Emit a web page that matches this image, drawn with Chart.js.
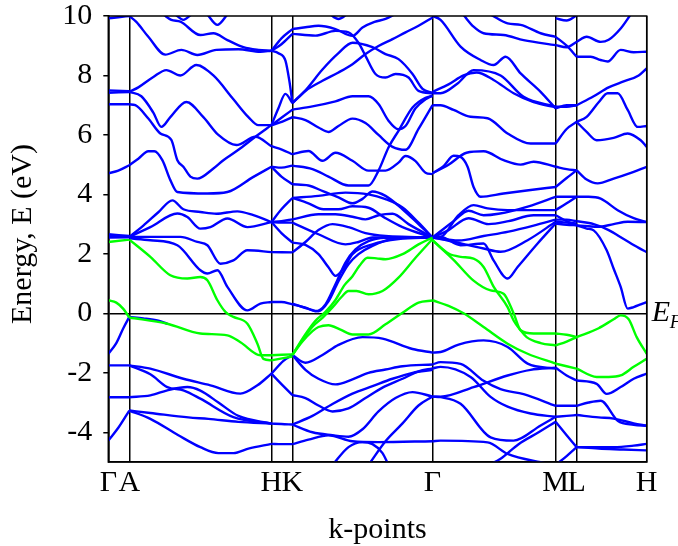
<!DOCTYPE html>
<html><head><meta charset="utf-8">
<script src="https://cdn.jsdelivr.net/npm/chart.js@4"></script>
<style>html,body{margin:0;padding:0;background:#fff}canvas{display:block}</style>
</head><body>
<canvas id="c" width="678" height="546"></canvas>
<script>
// k-path nodes (path length, arbitrary units) and their labels
const kNodes = [0, 21, 163, 184, 324, 447, 468, 538];
const kLabels = ['Γ', 'A', 'H', 'K', 'Γ', 'M', 'L', 'H'];
const energyTicks = [-4, -2, 0, 2, 4, 6, 8, 10];

// bands per path segment: each curve is a list of [k, E(eV)]
const bandsGA = [
  [[0,9.92],[10,9.96],[21,10.0]],
  [[0,7.5],[21,7.47]],
  [[0,7.42],[21,7.44]],
  [[0,7.03],[21,7.03]],
  [[0,4.71],[10,4.8],[21,4.98]],
  [[0,2.66],[21,2.6]],
  [[0,2.6],[21,2.58]],
  [[0,2.55],[21,2.56]],
  [[0,-1.36],[8,-1.0],[15,-0.5],[21,-0.12]],
  [[0,-1.75],[21,-1.75]],
  [[0,-2.82],[21,-2.82]],
  [[0,-4.28],[10,-3.85],[21,-3.27]]
];
const bandsAH = [
  [[21,10.0],[28,9.8],[40,9.3],[57,8.7],[73,8.86],[89,8.69],[108,8.86],[130,8.88],[152,8.8],[163,8.83]],
  [[55,10.05],[63,9.87],[72,9.81],[92,9.36],[105,9.42],[119,9.19],[135,8.95],[150,8.86],[163,8.83]],
  [[67,10.05],[75,9.87],[83,10.05]],
  [[99,10.05],[109,9.7],[119,10.05]],
  [[21,7.45],[30,7.6],[45,7.95],[58,8.18],[72,8.0],[88,8.35],[105,8.0],[125,7.2],[140,6.6],[150,6.33],[163,6.33]],
  [[21,7.45],[33,7.3],[45,6.75],[53,6.27],[62,6.6],[78,7.11],[95,6.6],[110,6.0],[128,5.66],[147,5.94],[163,5.62]],
  [[21,7.03],[27,7.0],[40,6.55],[52,6.05],[63,5.83],[69,5.15],[75,4.93],[82,4.6],[89,4.53],[105,4.87],[115,5.15],[130,5.5],[147,5.94],[163,6.33]],
  [[21,4.98],[30,5.2],[40,5.45],[46,5.45],[54,5.15],[62,4.48],[69,4.08],[99,4.03],[119,4.08],[145,4.59],[163,4.93]],
  [[21,2.57],[35,2.95],[50,3.4],[64,3.8],[75,3.5],[92,3.41],[108,3.35],[129,3.43],[145,3.3],[163,3.07]],
  [[21,2.57],[42,2.9],[69,3.36],[79,3.24],[92,2.85],[102,2.9],[119,3.19],[139,2.9],[163,3.07]],
  [[21,2.57],[72,2.57],[89,2.4],[99,2.29],[112,1.67],[125,1.78],[139,2.12],[163,2.06]],
  [[21,2.52],[42,2.46],[69,2.29],[92,1.45],[99,1.34],[109,1.45],[119,0.89],[139,0.1],[152,0.33],[163,0.38]],
  [[21,-0.12],[35,-0.17],[50,-0.25],[59,-0.35]],
  [[21,-1.75],[42,-1.86],[75,-2.2],[102,-2.42],[132,-2.7],[149,-2.42],[163,-2.03]],
  [[21,-1.75],[42,-2.05],[59,-2.48],[75,-2.59],[92,-2.87],[125,-3.49],[163,-3.71]],
  [[21,-2.82],[42,-2.76],[59,-2.59],[79,-2.48],[92,-2.6],[110,-3.0],[130,-3.45],[163,-3.71]],
  [[21,-3.27],[42,-3.35],[80,-3.5],[100,-3.55],[130,-3.65],[163,-3.71]],
  [[21,-3.27],[42,-3.55],[70,-4.1],[92,-4.5],[110,-4.7],[125,-4.7],[140,-4.55],[163,-4.39]]
];
const bandsHK = [
  [[163,8.83],[173,9.25],[184,9.56]],
  [[163,8.83],[173,9.05],[184,9.4]],
  [[163,8.83],[170,8.75],[177,8.5],[181,7.8],[184,7.07]],
  [[163,6.33],[170,6.9],[177,7.38],[184,7.07]],
  [[163,6.33],[174,6.6],[184,6.85]],
  [[163,6.33],[174,6.45],[184,6.6]],
  [[163,5.62],[174,5.5],[184,5.35]],
  [[163,4.93],[173,4.9],[184,4.97]],
  [[163,4.93],[173,4.6],[184,4.34]],
  [[163,3.07],[173,3.5],[184,3.88]],
  [[163,3.07],[173,3.1],[184,3.16]],
  [[163,3.07],[173,3.05],[184,3.05]],
  [[163,3.07],[173,2.7],[184,2.38]],
  [[163,2.06],[184,2.05]],
  [[163,0.38],[173,0.38],[184,0.3]],
  [[163,-2.03],[175,-1.6],[184,-1.4]],
  [[163,-2.03],[175,-2.45],[184,-2.75]],
  [[163,-3.71],[173,-3.72],[184,-3.74]],
  [[163,-4.39],[173,-4.4],[184,-4.4]]
];
const bandsKG = [
  [[184,9.56],[197,9.62],[210,9.67],[227,9.56],[244,9.33],[254,9.61],[266,9.8],[277,9.9],[287,10.07]],
  [[184,9.4],[207,9.34],[227,9.5],[240,9.45],[250,9.1],[257,8.66],[267,8.05],[277,7.93],[287,8.05],[300,7.93],[310,7.48],[324,7.4]],
  [[220,10.1],[230,9.9],[240,10.1]],
  [[184,7.07],[197,7.48],[214,7.82],[230,8.1],[244,8.38],[257,8.72],[270,8.99],[284,9.22],[297,9.45],[310,9.67],[324,9.95]],
  [[184,7.07],[197,7.5],[214,8.2],[230,8.75],[244,9.1],[264,8.95],[277,8.72],[290,8.55],[304,8.05],[314,7.55],[324,7.42]],
  [[184,6.85],[204,6.96],[227,7.13],[244,7.3],[260,7.3],[270,7.04],[280,6.48],[290,6.19],[297,6.3],[307,6.9],[317,7.2],[324,7.33]],
  [[184,6.6],[197,6.5],[210,6.25],[220,6.1],[230,6.3],[244,6.55],[257,6.4],[270,6.0],[284,5.6],[297,5.5],[310,6.2],[324,7.0]],
  [[184,5.35],[200,5.46],[214,5.13],[227,5.4],[244,5.13],[260,4.8],[277,4.8],[290,5.07],[297,5.29],[307,5.12],[317,4.73],[324,4.68]],
  [[184,4.97],[204,4.85],[220,4.6],[240,4.3],[260,4.3],[270,4.8],[280,5.58],[290,6.14],[304,6.92],[317,7.25],[324,7.31]],
  [[184,4.34],[200,4.3],[215,4.1],[230,3.9],[244,3.7],[254,3.85],[264,4.1],[277,3.95],[294,3.5],[310,3.0],[324,2.55]],
  [[184,3.88],[210,3.95],[237,4.06],[260,4.0],[277,3.84],[294,3.56],[310,3.05],[324,2.55]],
  [[184,3.88],[200,3.7],[215,3.5],[230,3.5],[244,3.6],[260,3.55],[277,3.2],[294,2.9],[324,2.55]],
  [[184,3.16],[210,3.33],[227,3.33],[244,3.25],[257,3.16],[270,3.3],[284,3.35],[300,3.0],[324,2.55]],
  [[184,3.05],[210,2.66],[237,2.32],[250,2.4],[264,2.55],[290,2.56],[324,2.55]],
  [[184,2.38],[197,2.3],[210,1.99],[220,1.55],[227,1.26],[235,1.5],[244,1.99],[264,2.32],[290,2.5],[324,2.55]],
  [[184,2.05],[197,2.4],[210,2.8],[224,3.0],[240,2.9],[257,2.7],[277,2.6],[300,2.57],[324,2.55]],
  [[184,0.3],[197,0.19],[207,0.07],[217,0.3],[227,0.98],[237,1.71],[247,2.15],[260,2.43],[277,2.54],[324,2.56]],
  [[184,0.33],[200,0.15],[210,0.07],[220,0.4],[230,1.08],[240,1.65],[250,1.99],[264,2.27],[287,2.52],[324,2.56]],
  [[184,-1.4],[197,-1.66],[214,-1.4],[230,-1.06],[254,-0.8],[274,-0.85],[304,-1.2],[324,-1.32]],
  [[184,-1.4],[197,-1.9],[210,-2.2],[227,-2.39],[244,-2.22],[260,-2.0],[277,-1.89],[294,-1.78],[324,-1.72]],
  [[184,-2.75],[197,-2.85],[210,-3.1],[224,-3.3],[240,-3.2],[257,-2.85],[274,-2.5],[294,-2.2],[310,-1.95],[324,-1.85]],
  [[184,-3.74],[204,-3.45],[224,-3.05],[244,-2.7],[264,-2.45],[284,-2.2],[304,-2.0],[324,-1.9]],
  [[184,-3.74],[204,-4.0],[224,-4.1],[240,-4.15],[254,-3.9],[270,-3.3],[287,-2.85],[304,-2.65],[324,-2.8]],
  [[184,-4.4],[200,-4.25],[220,-4.1],[244,-4.3],[270,-4.33],[324,-4.3]],
  [[224,-5.1],[240,-4.5],[254,-4.33],[264,-4.4],[274,-4.7],[280,-5.1]],
  [[260,-5.1],[277,-4.3],[294,-3.7],[310,-3.1],[324,-2.8]]
];
const bandsGM = [
  [[324,10.0],[332,9.87],[352,8.97],[372,8.52],[385,8.35],[397,8.63],[412,8.07],[432,7.45],[447,6.89]],
  [[324,7.4],[332,7.4],[349,7.73],[365,8.18],[392,8.0],[415,7.28],[447,6.95]],
  [[324,7.45],[340,7.7],[355,8.0],[368,8.1],[385,7.85],[405,7.4],[425,7.1],[447,6.93]],
  [[324,10.0],[338,10.08]],
  [[355,10.03],[365,9.64],[375,9.42],[395,9.36],[415,9.19],[447,9.02]],
  [[382,10.05],[399,9.75],[412,9.7],[432,9.42],[447,9.3]],
  [[324,7.0],[332,7.0],[345,6.84],[362,6.61],[379,6.56],[399,6.05],[422,5.71],[447,5.71]],
  [[324,4.71],[335,4.95],[345,5.3],[352,5.26],[359,4.93],[365,4.25],[372,3.92],[395,4.03],[420,4.14],[447,4.25]],
  [[324,4.71],[340,5.0],[358,5.4],[375,5.45],[395,5.15],[412,5.0],[425,5.1],[447,4.93]],
  [[324,2.55],[332,2.57],[350,3.3],[365,3.64],[379,3.53],[399,3.47],[447,3.47]],
  [[324,2.55],[345,3.1],[360,3.45],[375,3.3],[390,3.35],[420,3.6],[447,3.92]],
  [[324,2.55],[340,2.8],[360,3.2],[380,3.0],[400,3.1],[425,3.3],[447,3.3]],
  [[324,2.55],[332,2.57],[352,2.29],[375,2.35],[385,1.78],[399,1.17],[409,1.56],[429,2.35],[447,3.02]],
  [[324,2.55],[332,2.5],[375,2.18],[392,2.07],[419,2.46],[447,3.08]],
  [[324,2.55],[350,2.45],[375,2.6],[400,2.75],[425,2.95],[447,3.15]],
  [[324,-1.32],[332,-1.3],[350,-1.05],[375,-0.91],[399,-1.13],[419,-1.69],[447,-1.86]],
  [[324,-1.72],[332,-1.64],[352,-1.7],[375,-2.27],[392,-2.55],[415,-2.72],[447,-3.11]],
  [[324,-1.85],[332,-1.8],[362,-2.14],[382,-2.81],[399,-3.14],[422,-3.37],[447,-3.48]],
  [[324,-2.8],[332,-2.8],[365,-2.48],[399,-2.09],[422,-1.9],[447,-1.83]],
  [[324,-2.8],[332,-2.82],[352,-3.04],[382,-4.17],[405,-4.28],[432,-3.77],[447,-3.48]],
  [[324,-4.3],[332,-4.28],[379,-4.34],[399,-4.73],[432,-5.01],[447,-5.1]],
  [[380,-5.1],[392,-4.89],[410,-4.4],[430,-4.0],[447,-3.65]]
];
const bandsML = [
  [[447,9.92],[458,9.85],[468,10.02]],
  [[447,9.3],[458,9.0],[468,8.63]],
  [[447,9.02],[458,8.95],[468,9.13]],
  [[447,6.95],[458,6.95],[468,7.0]],
  [[447,6.89],[458,7.0],[468,7.0]],
  [[447,5.71],[458,6.2],[468,6.44]],
  [[447,4.93],[458,4.85],[468,4.81]],
  [[447,4.25],[458,4.55],[468,4.81]],
  [[447,3.92],[458,3.92],[468,3.92]],
  [[447,3.47],[458,3.7],[468,3.92]],
  [[447,3.3],[458,3.1],[468,2.96]],
  [[447,3.02],[458,2.98],[468,2.96]],
  [[447,3.08],[458,3.05],[468,3.02]],
  [[447,3.15],[458,3.15],[468,3.1]],
  [[447,-1.83],[458,-2.09],[468,-2.26]],
  [[447,-3.11],[458,-3.11],[468,-3.11]],
  [[447,-3.48],[458,-3.45],[468,-3.42]],
  [[447,-3.65],[458,-4.1],[468,-4.5]],
  [[447,-5.1],[458,-4.8],[468,-4.5]]
];
const bandsLH = [
  [[468,9.13],[478,9.3],[492,9.13],[500,9.2],[512,9.58],[522,10.05]],
  [[468,8.63],[482,8.63],[492,8.52],[499,8.47],[512,8.86],[525,8.78],[538,8.8]],
  [[468,7.0],[485,7.3],[500,7.6],[515,7.8],[530,8.0],[538,8.24]],
  [[468,6.44],[478,6.61],[490,7.1],[499,7.4],[509,7.4],[519,6.84],[529,6.27],[538,6.3]],
  [[468,6.44],[478,6.1],[488,5.82],[505,5.9],[519,6.05],[532,5.82],[538,5.6]],
  [[468,4.81],[478,4.5],[489,4.37],[505,4.53],[520,4.7],[538,4.93]],
  [[468,3.92],[480,3.92],[492,3.86],[509,3.47],[525,3.2],[538,3.07]],
  [[468,2.96],[480,2.93],[489,2.91],[505,3.0],[519,3.08],[538,3.07]],
  [[468,3.1],[485,3.0],[500,2.8],[515,2.5],[530,2.2],[538,2.06]],
  [[468,2.96],[478,2.85],[485,2.79],[498,2.12],[505,1.5],[512,0.89],[519,0.16],[525,0.21],[532,0.3],[538,0.38]],
  [[468,-2.26],[488,-2.37],[498,-2.71],[512,-2.48],[525,-2.2],[538,-2.03]],
  [[468,-3.11],[480,-3.0],[492,-2.94],[509,-3.61],[525,-3.75],[538,-3.78]],
  [[468,-3.42],[490,-3.5],[505,-3.54],[525,-3.7],[538,-3.78]],
  [[468,-4.5],[490,-4.5],[505,-4.5],[525,-4.45],[538,-4.39]],
  [[468,-4.5],[490,-4.55],[515,-4.58],[538,-4.61]]
];
// the two bands around the Fermi level
const greenBands = [
  [[0,2.4],[21,2.48]],
  [[0,0.44],[8,0.36],[15,0.15],[21,-0.14]],
  [[21,2.48],[42,1.9],[62,1.28],[79,1.17],[92,1.22],[99,1.11],[109,0.44],[117,0.05],[125,-0.12],[139,-0.35],[149,-1.02],[155,-1.53],[163,-1.58]],
  [[21,-0.14],[59,-0.35],[92,-0.68],[119,-0.74],[132,-0.97],[152,-1.41],[163,-1.41]],
  [[163,-1.41],[184,-1.38]],
  [[163,-1.58],[184,-1.45]],
  [[184,-1.4],[196,-0.75],[207,-0.25],[217,0.05],[227,0.45],[236,0.95],[244,1.25],[251,1.6],[259,1.87],[268,1.85],[277,1.82],[294,1.99],[310,2.32],[324,2.55]],
  [[184,-1.4],[194,-0.9],[204,-0.45],[214,-0.15],[224,0.2],[233,0.55],[240,0.75],[248,0.75],[260,0.64],[274,0.75],[290,1.2],[307,1.87],[324,2.5]],
  [[184,-1.4],[194,-0.95],[204,-0.6],[210,-0.46],[220,-0.4],[232,-0.55],[244,-0.71],[260,-0.71],[277,-0.37],[294,0.02],[310,0.36],[324,0.43]],
  [[324,2.46],[340,2.01],[352,1.9],[365,1.84],[375,1.56],[385,0.9],[399,0.21],[405,-0.24],[412,-0.57],[418,-0.8],[432,-1.0],[447,-1.08]],
  [[324,0.44],[340,0.25],[355,0.0],[375,-0.46],[399,-1.02],[419,-1.36],[447,-1.69]],
  [[324,2.45],[345,1.8],[365,1.1],[382,0.77],[395,0.66],[405,0.0],[412,-0.57],[425,-0.68],[447,-0.68]],
  [[447,-1.08],[458,-0.95],[468,-0.8]],
  [[447,-1.69],[458,-1.78],[468,-1.86]],
  [[447,-0.68],[458,-0.72],[468,-0.8]],
  [[468,-1.86],[488,-2.14],[500,-2.14],[512,-2.09],[525,-1.8],[538,-1.53]],
  [[468,-0.8],[490,-0.5],[505,-0.2],[512,-0.07],[520,-0.2],[528,-0.8],[538,-1.36]]
];
const blueBands = [bandsGA, bandsAH, bandsHK, bandsKG, bandsGM, bandsML, bandsLH];

const BLUE = '#0000ff';
const GREEN = '#00ff00';

function curveSet(curve, color, order) {
  return {
    data: curve.map(([k, e]) => ({x: k, y: e})),
    borderColor: color,
    borderWidth: 2.4,
    pointRadius: 0,
    fill: false,
    cubicInterpolationMode: 'monotone',
    order: order,
    clip: 0
  };
}

const datasets = [];
greenBands.forEach(c => datasets.push(curveSet(c, GREEN, 0)));
blueBands.forEach(seg => seg.forEach(c => datasets.push(curveSet(c, BLUE, 1))));

const SERIF = '"Liberation Serif", "Times New Roman", serif';

const frameAndLabels = {
  id: 'frameAndLabels',
  afterDraw(chart) {
    const {ctx, chartArea: a} = chart;
    ctx.save();
    ctx.strokeStyle = '#000';
    ctx.lineWidth = 1.5;
    ctx.strokeRect(a.left, a.top, a.right - a.left, a.bottom - a.top);
    ctx.fillStyle = '#000';
    ctx.textAlign = 'center';
    ctx.textBaseline = 'alphabetic';
    ctx.font = '30px ' + SERIF;
    ctx.fillText('k-points', (a.left + a.right) / 2, 538);
    ctx.save();
    ctx.translate(31, 234);
    ctx.rotate(-Math.PI / 2);
    ctx.fillText('Energy, E (eV)', 0, 0);
    ctx.restore();
    // Fermi level label
    const y0 = chart.scales.y.getPixelForValue(0);
    ctx.textAlign = 'left';
    ctx.font = 'italic 30px ' + SERIF;
    ctx.fillText('E', a.right + 5, y0 + 8);
    ctx.font = 'italic 19px ' + SERIF;
    ctx.fillText('F', a.right + 23, y0 + 15);
    ctx.restore();
  }
};

new Chart(document.getElementById('c'), {
  type: 'line',
  data: {datasets},
  options: {
    responsive: false,
    animation: false,
    events: [],
    layout: {padding: {left: 0, right: 31.3, top: 16, bottom: 0}},
    plugins: {legend: {display: false}, tooltip: {enabled: false}},
    scales: {
      x: {
        type: 'linear', min: 0, max: 538,
        afterBuildTicks: ax => { ax.ticks = kNodes.map(v => ({value: v})); },
        afterFit: ax => { ax.height = 84; ax.paddingLeft = 0; ax.paddingRight = 0; },
        ticks: {autoSkip: false, maxRotation: 0, padding: 3, color: '#000',
                font: {family: SERIF, size: 30},
                callback: (v, i) => kLabels[i]},
        grid: {color: '#000', lineWidth: 1.5, drawTicks: false},
        border: {color: '#000', width: 1.5}
      },
      y: {
        min: -5, max: 10,
        afterBuildTicks: ax => { ax.ticks = energyTicks.map(v => ({value: v})); },
        afterFit: ax => { ax.width = 108.3; ax.paddingTop = 0; ax.paddingBottom = 0; },
        ticks: {padding: 11, color: '#000', font: {family: SERIF, size: 30},
                callback: v => String(v)},
        grid: {drawOnChartArea: true, tickLength: 5, lineWidth: 1.5, tickColor: '#000',
               color: c => (c.tick && c.tick.value === 0) ? '#000' : 'rgba(0,0,0,0)'},
        border: {color: '#000', width: 1.5}
      }
    }
  },
  plugins: [frameAndLabels]
});
</script>
</body></html>
